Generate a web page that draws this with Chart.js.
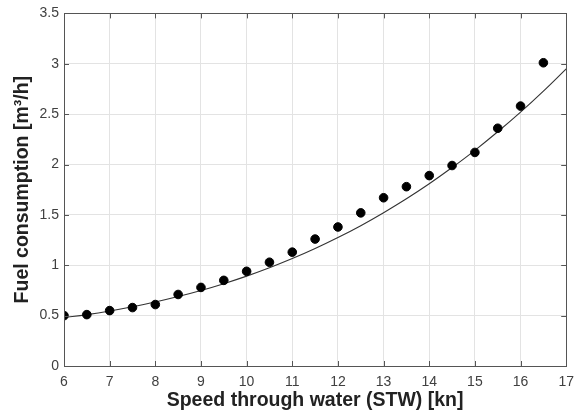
<!DOCTYPE html>
<html>
<head>
<meta charset="utf-8">
<script src="https://cdn.jsdelivr.net/npm/chart.js@4.4.1/dist/chart.umd.min.js"></script>
<style>
  html, body { margin: 0; padding: 0; background: #fff; }
  #wrap { width: 582px; height: 416px; position: relative; }
</style>
</head>
<body>
<div id="wrap"><canvas id="fuel-chart"></canvas></div>
<script>
// measured points: speed [kn] vs fuel [m3/h]
const speeds = [6, 6.5, 7, 7.5, 8, 8.5, 9, 9.5, 10, 10.5, 11, 11.5, 12, 12.5, 13, 13.5, 14, 14.5, 15, 15.5, 16, 16.5];
const fuel = [0.50, 0.51, 0.55, 0.58, 0.61, 0.71, 0.78, 0.85, 0.94, 1.03, 1.13, 1.26, 1.38, 1.52, 1.67, 1.78, 1.89, 1.99, 2.12, 2.36, 2.58, 3.01];

// fitted curve
const curveX = [6, 6.5, 7, 7.5, 8, 8.5, 9, 9.5, 10, 10.5, 11, 11.5, 12, 12.5, 13, 13.5, 14, 14.5, 15, 15.5, 16, 16.5, 17];
const curveY = [0.48, 0.51, 0.546, 0.588, 0.635, 0.689, 0.749, 0.817, 0.892, 0.975, 1.066, 1.166, 1.275, 1.393, 1.522, 1.66, 1.809, 1.97, 2.141, 2.325, 2.52, 2.729, 2.95];

const xTicks = [6, 7, 8, 9, 10, 11, 12, 13, 14, 15, 16, 17];
const yTicks = [0, 0.5, 1, 1.5, 2, 2.5, 3, 3.5];

const axisColor = '#555';
const fam = 'Liberation Sans, Arial, Helvetica, sans-serif';

// MATLAB-ish box with inward ticks
const boxPlugin = {
   id: 'boxTicks',
   afterDatasetsDraw(chart) {
      const { ctx, chartArea: a, scales } = chart;
      ctx.save();
      ctx.strokeStyle = axisColor;
      ctx.lineWidth = 1;
      ctx.beginPath();
      xTicks.forEach(v => {
         const px = Math.round(scales.x.getPixelForValue(v)) + 0.5;
         ctx.moveTo(px, a.bottom); ctx.lineTo(px, a.bottom - 5);
         ctx.moveTo(px, a.top); ctx.lineTo(px, a.top + 5);
      });
      yTicks.forEach(v => {
         const py = Math.round(scales.y.getPixelForValue(v)) + 0.5;
         ctx.moveTo(a.left, py); ctx.lineTo(a.left + 5, py);
         ctx.moveTo(a.right, py); ctx.lineTo(a.right - 5, py);
      });
      ctx.stroke();
      ctx.strokeRect(Math.round(a.left) + 0.5, Math.round(a.top) + 0.5,
         Math.round(a.right - a.left), Math.round(a.bottom - a.top));
      ctx.restore();
   }
};

new Chart(document.getElementById('fuel-chart'), {
   type: 'scatter',
   data: {
      datasets: [{
         label: 'Measured',
         data: speeds.map((s, i) => ({ x: s, y: fuel[i] })),
         backgroundColor: '#000',
         borderColor: '#000',
         pointRadius: 4.3,
         order: 1
      }, {
         label: 'Fit',
         data: curveX.map((s, i) => ({ x: s, y: curveY[i] })),
         showLine: true,
         borderColor: '#333',
         borderWidth: 1.1,
         pointRadius: 0,
         tension: 0.4,
         order: 2
      }]
   },
   plugins: [boxPlugin],
   options: {
      responsive: true,
      maintainAspectRatio: false,
      animation: false,
      layout: { padding: { top: 12, right: 10, left: 7, bottom: 0 } },
      plugins: { legend: { display: false }, tooltip: { enabled: false } },
      scales: {
         x: {
            type: 'linear', min: 6, max: 17,
            afterBuildTicks: s => { s.ticks = xTicks.map(v => ({ value: v })); },
            afterFit: s => { s.height = 50; },
            grid: { color: '#e3e3e3', drawTicks: false },
            border: { color: axisColor },
            ticks: { color: '#404040', font: { family: fam, size: 14 }, padding: 8, callback: v => String(v) },
            title: {
               display: true, text: 'Speed through water (STW) [kn]', color: '#222',
               font: { family: fam, size: 19.5, weight: 'bold' }, padding: { top: 0 }
            }
         },
         y: {
            type: 'linear', min: 0, max: 3.5,
            afterBuildTicks: s => { s.ticks = yTicks.map(v => ({ value: v })); },
            afterFit: s => { s.width = 57; },
            grid: { color: '#e3e3e3', drawTicks: false },
            border: { color: axisColor },
            ticks: { color: '#404040', font: { family: fam, size: 14 }, padding: 5, callback: v => String(v) },
            title: {
               display: true, text: 'Fuel consumption [m³/h]', color: '#222',
               font: { family: fam, size: 19.5, weight: 'bold' }, padding: { bottom: 0 }
            }
         }
      }
   }
});
</script>
</body>
</html>
